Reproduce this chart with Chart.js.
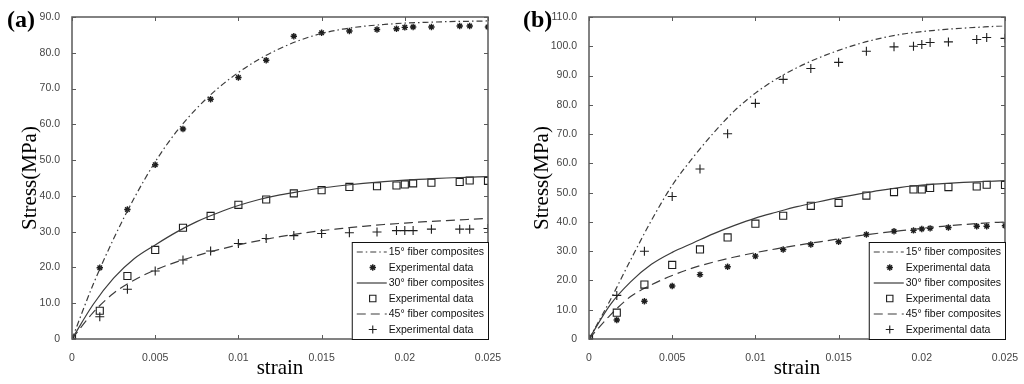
<!DOCTYPE html>
<html>
<head>
<meta charset="utf-8">
<script src="https://cdn.jsdelivr.net/npm/chart.js@4.4.1/dist/chart.umd.min.js"></script>
<style>
  html, body { margin: 0; padding: 0; background: #fff; }
  #wrap { position: relative; width: 1024px; height: 384px; }
  canvas { position: absolute; top: 0; }
</style>
</head>
<body>
<div id="wrap">
  <canvas id="chartA" width="512" height="384" style="left:0"></canvas>
  <canvas id="chartB" width="512" height="384" style="left:512px"></canvas>
</div>
<script>
// strain values of the model curves and of the measured points
const curveStrain = [0, 0.00125, 0.0025, 0.00375, 0.005, 0.00625, 0.0075, 0.00875, 0.01, 0.01125, 0.0125,
    0.01375, 0.015, 0.01625, 0.0175, 0.01875, 0.02, 0.02125, 0.0225, 0.02375, 0.025];
const expStrain = [0, 0.00167, 0.00333, 0.005, 0.00667, 0.00833, 0.01, 0.01167, 0.01333, 0.015, 0.01667,
    0.01833, 0.0195, 0.02, 0.0205, 0.0216, 0.0233, 0.0239, 0.025];

// panel (a)
const curve15a = [0, 15, 28, 39.5, 49.5, 57.8, 64.5, 70, 74.5, 78.2, 81.2, 83.6, 85.4, 86.6, 87.4, 87.9, 88.3, 88.5, 88.7, 88.8, 88.9];
const curve30a = [0, 9.5, 17, 22.5, 26.3, 29.8, 32.8, 35.2, 37.3, 39, 40.3, 41.3, 42.2, 42.9, 43.5, 44, 44.4, 44.7, 45, 45.2, 45.4];
const curve45a = [0, 7.3, 12.8, 16.5, 19.3, 21.5, 23.3, 24.9, 26.3, 27.5, 28.6, 29.5, 30.3, 30.9, 31.5, 32, 32.4, 32.8, 33.1, 33.4, 33.7];
const exp15a = [0, 19.9, 36.2, 48.7, 58.7, 67.0, 73.1, 77.9, 84.6, 85.6, 86.1, 86.5, 86.7, 87.1, 87.2, 87.2, 87.5, 87.5, 87.2];
const exp30a = [0, 7.9, 17.6, 24.9, 31.1, 34.4, 37.5, 39.0, 40.7, 41.6, 42.5, 42.7, 42.9, 43.2, 43.5, 43.7, 43.9, 44.3, 44.2];
const exp45a = [0, 6.2, 13.9, 19.0, 22.1, 24.6, 26.7, 28.1, 28.9, 29.5, 29.7, 29.9, 30.3, 30.3, 30.3, 30.7, 30.7, 30.7, 30.9];

// panel (b)
const curve15b = [0, 13, 27, 40.5, 52.5, 62, 70.5, 78, 84, 88.8, 92.7, 95.9, 98.6, 100.9, 102.7, 104.1, 105, 105.7, 106.2, 106.6, 107];
const curve30b = [0, 11.5, 19.5, 25.5, 29.6, 32.8, 36, 38.8, 41.3, 43.3, 45.2, 46.8, 48.3, 49.6, 50.8, 51.8, 52.6, 53.1, 53.5, 53.8, 54.1];
const curve45b = [0, 8, 14.5, 18.5, 21.7, 24.3, 26.3, 28, 29.5, 30.8, 32, 33.1, 34.2, 35.3, 36.2, 37, 37.8, 38.5, 39.1, 39.6, 40];
const exp15b = [0, 14.9, 30.0, 48.7, 58.1, 70.1, 80.5, 88.7, 92.4, 94.5, 98.3, 99.8, 100.0, 100.6, 101.3, 101.5, 102.3, 103.0, 102.7];
const exp30b = [0, 9.0, 18.6, 25.3, 30.6, 34.7, 39.4, 42.1, 45.5, 46.5, 49.0, 50.2, 51.1, 51.1, 51.6, 51.9, 52.1, 52.7, 52.6];
const exp45b = [0, 6.5, 12.9, 18.1, 22.0, 24.7, 28.3, 30.6, 32.3, 33.2, 35.7, 36.8, 37.1, 37.6, 37.8, 38.1, 38.5, 38.5, 38.7];

const legendLabels = ['15° fiber composites', 'Experimental data', '30° fiber composites',
    'Experimental data', '45° fiber composites', 'Experimental data'];
const xTicks = [0, 0.005, 0.01, 0.015, 0.02, 0.025];

const narrow = "'Liberation Sans Narrow', 'Arial Narrow', 'Liberation Sans', sans-serif";
const serif = "'Liberation Serif', 'Times New Roman', serif";
const lineColor = '#3c3c3c';
const markColor = '#1e1e1e';

function toPoints(xs, ys) {
    return xs.map((x, i) => ({ x: x, y: ys[i] }));
}

function curveSet(label, values, dash) {
    return {
        label: label,
        data: toPoints(curveStrain, values),
        showLine: true,
        borderColor: lineColor,
        borderWidth: 1.2,
        borderDash: dash,
        pointRadius: 0,
        cubicInterpolationMode: 'monotone',
        fill: false
    };
}

function expSet(label, values, style, legendStyle) {
    return {
        label: label,
        data: toPoints(expStrain, values),
        showLine: false,
        pointStyle: style,
        legendStyle: legendStyle || style,
        pointRadius: style === 'rect' ? 5 : (style === 'cross' ? 4.5 : 3.2),
        pointBorderWidth: style === 'star' ? 1.4 : 1.1,
        borderColor: markColor,
        backgroundColor: 'rgba(0,0,0,0)'
    };
}

// frame, inward tick marks, panel letter and in-plot legend
const framePlugin = {
    id: 'frame',
    afterDraw(chart, args, opts) {
        const ctx = chart.ctx;
        const a = chart.chartArea;
        const xs = chart.scales.x, ys = chart.scales.y;
        ctx.save();
        ctx.strokeStyle = '#5a5a5a';
        ctx.lineWidth = 1.5;
        ctx.strokeRect(a.left, a.top, a.right - a.left, a.bottom - a.top);
        ctx.lineWidth = 1;
        ctx.beginPath();
        xs.ticks.forEach(t => {
            const px = Math.round(xs.getPixelForValue(t.value)) + 0.5;
            ctx.moveTo(px, a.bottom); ctx.lineTo(px, a.bottom - 4);
            ctx.moveTo(px, a.top); ctx.lineTo(px, a.top + 4);
        });
        ys.ticks.forEach(t => {
            const py = Math.round(ys.getPixelForValue(t.value)) + 0.5;
            ctx.moveTo(a.left, py); ctx.lineTo(a.left + 4, py);
            ctx.moveTo(a.right, py); ctx.lineTo(a.right - 4, py);
        });
        ctx.stroke();

        // panel letter
        ctx.fillStyle = '#000';
        ctx.font = 'bold 24px ' + serif;
        ctx.textBaseline = 'middle';
        ctx.textAlign = 'left';
        ctx.fillText(opts.letter, opts.letterX, 21);

        // legend box
        const rowH = 15.5;
        ctx.font = '10.5px ' + narrow;
        const sets = chart.data.datasets;
        let maxW = 0;
        sets.forEach(d => { maxW = Math.max(maxW, ctx.measureText(d.label).width); });
        const w = 38 + maxW + 3;
        const h = rowH * sets.length + 4;
        const left = a.right - w, top = a.bottom - h;
        ctx.fillStyle = '#fff';
        ctx.fillRect(left, top, w, h);
        ctx.strokeStyle = '#111';
        ctx.lineWidth = 1;
        ctx.strokeRect(left + 0.5, top + 0.5, w, h);
        sets.forEach((d, i) => {
            const cy = top + 10 + i * rowH;
            if (d.showLine) {
                ctx.save();
                ctx.strokeStyle = lineColor;
                ctx.lineWidth = 1.2;
                ctx.setLineDash(d.borderDash || []);
                ctx.beginPath();
                ctx.moveTo(left + 5, cy); ctx.lineTo(left + 35, cy);
                ctx.stroke();
                ctx.restore();
            } else {
                ctx.save();
                ctx.strokeStyle = markColor;
                ctx.fillStyle = 'rgba(0,0,0,0)';
                ctx.lineWidth = d.legendStyle === 'star' ? 1.4 : 1.1;
                Chart.helpers.drawPoint(ctx, {
                    pointStyle: d.legendStyle,
                    radius: d.legendStyle === 'rect' ? 4.5 : (d.legendStyle === 'star' ? 3.2 : 4),
                    borderWidth: ctx.lineWidth
                }, left + 21, cy);
                ctx.restore();
            }
            ctx.fillStyle = '#111';
            ctx.fillText(d.label, left + 37, cy + 0.5);
        });
        ctx.restore();
    }
};

function makeChart(id, sets, yMax, yWidth, padRight, letter, letterX) {
    return new Chart(document.getElementById(id), {
        type: 'line',
        data: { datasets: sets },
        options: {
            responsive: false,
            animation: false,
            devicePixelRatio: 1,
            layout: { padding: { top: 17, right: padRight, bottom: 0, left: 0 } },
            plugins: {
                legend: { display: false },
                tooltip: { enabled: false },
                frame: { letter: letter, letterX: letterX }
            },
            scales: {
                x: {
                    type: 'linear',
                    min: 0,
                    max: 0.025,
                    afterBuildTicks: s => { s.ticks = xTicks.map(v => ({ value: v })); },
                    afterFit: s => { s.height = 45; },
                    grid: { display: false },
                    border: { display: false },
                    ticks: {
                        padding: 5,
                        color: '#454545',
                        font: { family: narrow, size: 10.5 },
                        callback: v => String(+v.toFixed(3))
                    },
                    title: {
                        display: true,
                        text: 'strain',
                        color: '#000',
                        padding: { top: 0, bottom: 3 },
                        font: { family: serif, size: 21 }
                    }
                },
                y: {
                    type: 'linear',
                    min: 0,
                    max: yMax,
                    afterFit: s => { s.width = yWidth; },
                    grid: { display: false },
                    border: { display: false },
                    ticks: {
                        stepSize: 10,
                        padding: 4,
                        color: '#454545',
                        font: { family: narrow, size: 10.5 },
                        callback: v => v === 0 ? '0' : v.toFixed(1)
                    },
                    title: {
                        display: true,
                        text: 'Stress(MPa)',
                        color: '#000',
                        padding: { top: 18, bottom: 0 },
                        font: { family: serif, size: 21 }
                    }
                }
            }
        },
        plugins: [framePlugin]
    });
}

makeChart('chartA', [
    curveSet(legendLabels[0], curve15a, [6, 3, 1.5, 3]),
    expSet(legendLabels[1], exp15a, 'star'),
    curveSet(legendLabels[2], curve30a, []),
    expSet(legendLabels[3], exp30a, 'rect'),
    curveSet(legendLabels[4], curve45a, [9, 5]),
    expSet(legendLabels[5], exp45a, 'cross')
], 90, 72, 24, '(a)', 7);

makeChart('chartB', [
    curveSet(legendLabels[0], curve15b, [6, 3, 1.5, 3]),
    expSet(legendLabels[1], exp15b, 'cross', 'star'),
    curveSet(legendLabels[2], curve30b, []),
    expSet(legendLabels[3], exp30b, 'rect'),
    curveSet(legendLabels[4], curve45b, [9, 5]),
    expSet(legendLabels[5], exp45b, 'star', 'cross')
], 110, 77, 19, '(b)', 11);
</script>
</body>
</html>
